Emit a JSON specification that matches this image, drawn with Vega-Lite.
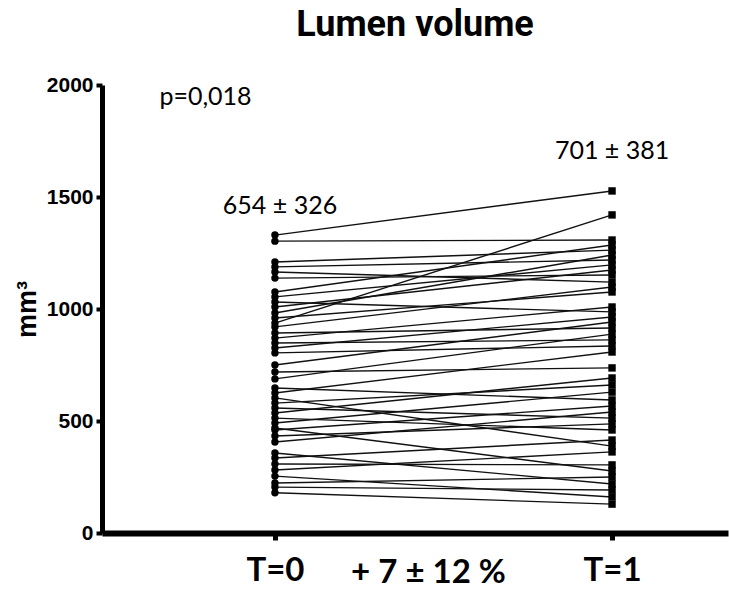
{
  "$schema": "https://vega.github.io/schema/vega-lite/v6.json",
  "width": 626,
  "height": 448,
  "autosize": "none",
  "padding": {"left": 102, "top": 85, "right": 1, "bottom": 57},
  "background": "white",
  "config": {"view": {"stroke": null}, "axis": {"grid": false}},
  "title": {"text": "Lumen volume", "font": "Roboto", "fontSize": 36, "fontWeight": "bold", "color": "#000000", "offset": 30},
  "datasets": {
    "pairs": [
      {"id": 1, "t": 0, "v": 1330}, {"id": 1, "t": 1, "v": 1527},
      {"id": 2, "t": 0, "v": 1303}, {"id": 2, "t": 1, "v": 1308},
      {"id": 3, "t": 0, "v": 1210}, {"id": 3, "t": 1, "v": 1263},
      {"id": 4, "t": 0, "v": 1188}, {"id": 4, "t": 1, "v": 1219},
      {"id": 5, "t": 0, "v": 1165}, {"id": 5, "t": 1, "v": 1120},
      {"id": 6, "t": 0, "v": 1138}, {"id": 6, "t": 1, "v": 1152},
      {"id": 7, "t": 0, "v": 1076}, {"id": 7, "t": 1, "v": 1286},
      {"id": 8, "t": 0, "v": 1054}, {"id": 8, "t": 1, "v": 1197},
      {"id": 9, "t": 0, "v": 1031}, {"id": 9, "t": 1, "v": 987},
      {"id": 10, "t": 0, "v": 1009}, {"id": 10, "t": 1, "v": 1174},
      {"id": 11, "t": 0, "v": 982}, {"id": 11, "t": 1, "v": 1241},
      {"id": 12, "t": 0, "v": 960}, {"id": 12, "t": 1, "v": 1076},
      {"id": 13, "t": 0, "v": 937}, {"id": 13, "t": 1, "v": 1420},
      {"id": 14, "t": 0, "v": 920}, {"id": 14, "t": 1, "v": 1098},
      {"id": 15, "t": 0, "v": 893}, {"id": 15, "t": 1, "v": 915},
      {"id": 16, "t": 0, "v": 870}, {"id": 16, "t": 1, "v": 1009},
      {"id": 17, "t": 0, "v": 848}, {"id": 17, "t": 1, "v": 862},
      {"id": 18, "t": 0, "v": 826}, {"id": 18, "t": 1, "v": 964},
      {"id": 19, "t": 0, "v": 804}, {"id": 19, "t": 1, "v": 835},
      {"id": 20, "t": 0, "v": 750}, {"id": 20, "t": 1, "v": 942},
      {"id": 21, "t": 0, "v": 719}, {"id": 21, "t": 1, "v": 737},
      {"id": 22, "t": 0, "v": 688}, {"id": 22, "t": 1, "v": 888},
      {"id": 23, "t": 0, "v": 647}, {"id": 23, "t": 1, "v": 594},
      {"id": 24, "t": 0, "v": 625}, {"id": 24, "t": 1, "v": 808},
      {"id": 25, "t": 0, "v": 603}, {"id": 25, "t": 1, "v": 388},
      {"id": 26, "t": 0, "v": 580}, {"id": 26, "t": 1, "v": 661},
      {"id": 27, "t": 0, "v": 558}, {"id": 27, "t": 1, "v": 513},
      {"id": 28, "t": 0, "v": 536}, {"id": 28, "t": 1, "v": 692},
      {"id": 29, "t": 0, "v": 513}, {"id": 29, "t": 1, "v": 460},
      {"id": 30, "t": 0, "v": 491}, {"id": 30, "t": 1, "v": 629},
      {"id": 31, "t": 0, "v": 469}, {"id": 31, "t": 1, "v": 277},
      {"id": 32, "t": 0, "v": 460}, {"id": 32, "t": 1, "v": 567},
      {"id": 33, "t": 0, "v": 433}, {"id": 33, "t": 1, "v": 487},
      {"id": 34, "t": 0, "v": 406}, {"id": 34, "t": 1, "v": 540},
      {"id": 35, "t": 0, "v": 357}, {"id": 35, "t": 1, "v": 219},
      {"id": 36, "t": 0, "v": 335}, {"id": 36, "t": 1, "v": 415},
      {"id": 37, "t": 0, "v": 308}, {"id": 37, "t": 1, "v": 304},
      {"id": 38, "t": 0, "v": 281}, {"id": 38, "t": 1, "v": 362},
      {"id": 39, "t": 0, "v": 254}, {"id": 39, "t": 1, "v": 161},
      {"id": 40, "t": 0, "v": 223}, {"id": 40, "t": 1, "v": 250},
      {"id": 41, "t": 0, "v": 205}, {"id": 41, "t": 1, "v": 192},
      {"id": 42, "t": 0, "v": 180}, {"id": 42, "t": 1, "v": 129}
    ],
    "notes": [
      {"x": -0.206, "y": 1911, "label": "p=0,018"},
      {"x": 0.015, "y": 1424, "label": "654 ± 326"},
      {"x": 1.0, "y": 1670, "label": "701 ± 381"}
    ]
  },
  "layer": [
    {
      "data": {"name": "pairs"},
      "mark": {"type": "line", "color": "#111111", "strokeWidth": 1.4},
      "encoding": {
        "x": {
          "field": "t", "type": "quantitative",
          "scale": {"domain": [-0.513, 1.344], "nice": false, "zero": false},
          "axis": {
            "values": [0, 1],
            "labelExpr": "datum.value == 0 ? 'T=0' : 'T=1'",
            "labelFont": "Lato", "labelFontWeight": "bold", "labelFontSize": 33, "labelColor": "#000000",
            "labelPadding": 14, "labelFlush": false,
            "domainColor": "#000000", "domainWidth": 6,
            "tickColor": "#000000", "tickWidth": 5, "tickSize": 7,
            "title": "+ 7 ± 12 %",
            "titleFont": "Lato", "titleFontWeight": "bold", "titleFontSize": 33, "titleColor": "#000000",
            "titleX": 326, "titleY": 49, "titleBaseline": "alphabetic", "titleAlign": "center"
          }
        },
        "y": {
          "field": "v", "type": "quantitative",
          "scale": {"domain": [0, 2000], "nice": false},
          "axis": {
            "values": [0, 500, 1000, 1500, 2000],
            "format": "d",
            "labelFont": "Liberation Sans", "labelFontWeight": "bold", "labelFontSize": 21, "labelColor": "#000000",
            "labelPadding": 3,
            "domainColor": "#000000", "domainWidth": 5,
            "tickColor": "#000000", "tickWidth": 4, "tickSize": 6,
            "title": "mm³",
            "titleFont": "Liberation Sans", "titleFontWeight": "bold", "titleFontSize": 27, "titleColor": "#000000",
            "titlePadding": 5
          }
        },
        "detail": {"field": "id", "type": "nominal"}
      }
    },
    {
      "data": {"name": "pairs"},
      "mark": {"type": "point", "filled": true, "color": "#000000", "opacity": 1, "size": 55},
      "encoding": {
        "x": {"field": "t", "type": "quantitative"},
        "y": {"field": "v", "type": "quantitative"},
        "shape": {"field": "t", "type": "nominal", "scale": {"domain": [0, 1], "range": ["circle", "square"]}, "legend": null}
      }
    },
    {
      "data": {"name": "notes"},
      "mark": {"type": "text", "font": "Lato", "fontSize": 25, "baseline": "alphabetic", "align": "center", "color": "#000000"},
      "encoding": {
        "x": {"field": "x", "type": "quantitative"},
        "y": {"field": "y", "type": "quantitative"},
        "text": {"field": "label", "type": "nominal"}
      }
    }
  ]
}
